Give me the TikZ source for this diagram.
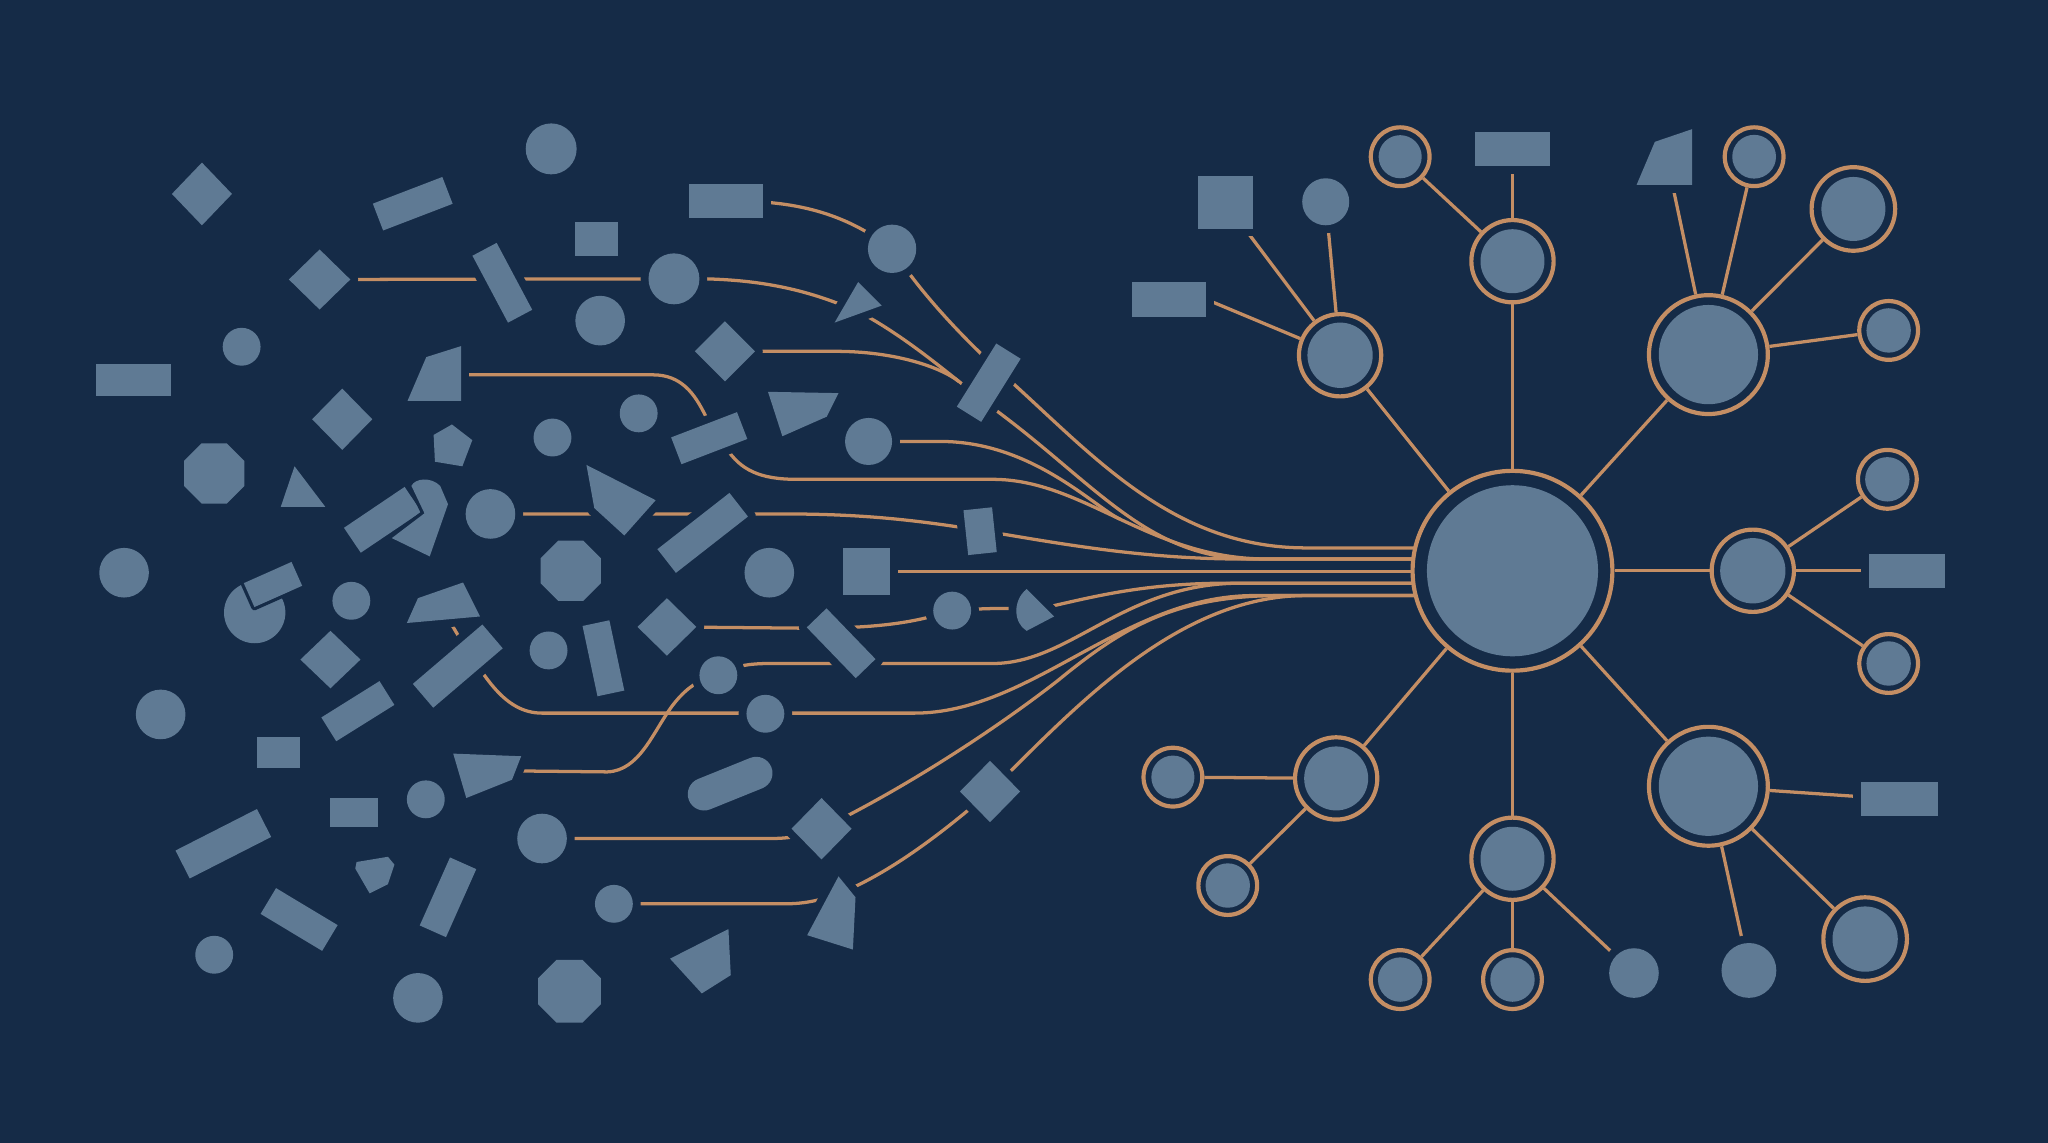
\documentclass[tikz,border=0pt]{standalone}
\usetikzlibrary{shapes.geometric}
\definecolor{bg}{HTML}{152B47}
\definecolor{shp}{HTML}{5F7A94}
\definecolor{cop}{HTML}{C48E64}
\pgfdeclarelayer{bottom}
\pgfdeclarelayer{lines}
\pgfsetlayers{bottom,lines,main}
\tikzset{
  sh/.style={fill=shp, draw=none, preaction={draw=bg, line width=1.2mm, line join=round}},
  shthin/.style={fill=shp, draw=none, preaction={draw=bg, line width=0.5mm, line join=round}},
  cir/.style={sh, circle, inner sep=0pt},
  box/.style={sh, rectangle, inner sep=0pt},
  ln/.style={draw=cop, line width=0.25mm},
  ringo/.style={circle, draw=cop, fill=bg, line width=0.32mm, inner sep=0pt},
  ringi/.style={circle, fill=shp, inner sep=0pt},
}
\newcommand\shcirc[4]{\node[cir,minimum size=#4mm] (#1) at (#2,#3) {};}
\newcommand\shbox[6]{\node[box,minimum width=#4mm,minimum height=#5mm,rotate=#6] (#1) at (#2,#3) {};}
\newcommand\shdiam[5]{\coordinate (#1) at (#2,#3); \path[sh] (#2-#4,#3) -- (#2,#3-#5) -- (#2+#4,#3) -- (#2,#3+#5) -- cycle;}
\newcommand\shoct[4]{\node[sh,regular polygon,regular polygon sides=8,inner sep=0pt,minimum size=#4mm] (#1) at (#2,#3) {};}
\newcommand\ringnd[4]{\node[ringo,minimum size=#3mm] (#1) at (#2) {}; \node[ringi,minimum size=#4mm] at (#2) {};}
\begin{document}
\begin{tikzpicture}[x=0.1mm,y=-0.1mm]
\begin{pgfonlayer}{bottom}
\fill[bg] (0,0) rectangle (1568,875);
\end{pgfonlayer}
\path[use as bounding box] (0,0) rectangle (1568,875);

% ---------- left scattered shapes ----------
\shcirc{C1}{422}{114}{3.9}
\shcirc{C6}{683}{190.5}{3.7}
\shcirc{C9}{516}{213.5}{3.9}
\shcirc{C10}{459.5}{245.5}{3.8}
\shcirc{C13}{185}{265.5}{2.9}
\shcirc{C19}{423}{335}{2.9}
\shcirc{C20}{489}{316.5}{2.9}
\shcirc{C23}{665}{338}{3.6}
\shcirc{C27}{375.5}{393.5}{3.8}
\shcirc{C31}{95}{438.5}{3.8}
\shcirc{C33}{589}{438.5}{3.8}
\shcirc{C35}{729}{467.5}{2.9}
\shcirc{C38}{269}{460}{2.9}
\shcirc{C42}{420}{498}{2.9}
\shcirc{C46}{550}{517}{2.9}
\shcirc{C47}{123}{547}{3.8}
\shcirc{C49}{586}{546.5}{2.9}
\shcirc{C55}{326}{612}{2.9}
\shcirc{C56}{415}{642}{3.8}
\shcirc{C60}{470}{692}{2.9}
\shcirc{C64}{164}{731}{2.9}
\shcirc{C65}{320}{764}{3.8}

\shoct{O24}{164}{362.5}{5.0}
\shoct{O32}{437}{437}{5.0}
\shoct{O66}{436}{759}{5.2}

\shbox{R3}{316}{156}{5.7}{2.2}{21}
\shbox{R4}{456.5}{183}{3.3}{2.6}{0}
\shbox{R5}{556}{154}{5.7}{2.6}{0}
\shbox{R8}{384.6}{216.5}{5.8}{2.1}{-62}
\shbox{R14}{102}{291}{5.75}{2.5}{0}
\shbox{R16}{757}{293}{5.7}{2.2}{58}
\shbox{R21}{543}{335.5}{5.4}{2.2}{21}
\shbox{R26}{293}{398}{5.6}{2.3}{34}
\shbox{R29}{538}{408}{7.0}{2.3}{38}
\shbox{R30}{750.4}{406.7}{2.2}{3.45}{6}
\shbox{S34}{663.5}{437.6}{3.6}{3.6}{0}
\shbox{R41}{350.5}{510}{7.0}{2.4}{40.5}
\shbox{R43}{462}{504}{2.1}{5.5}{12}
\shbox{R45}{644}{492.5}{5.4}{2.1}{-46}
\shbox{R48}{274}{544.5}{5.25}{2.15}{32}
\shbox{S50}{213}{576}{3.3}{2.4}{0}
\shbox{R53}{171}{646}{7.0}{2.4}{27}
\shbox{R54}{271}{622}{3.7}{2.2}{0}
\shbox{R59}{343}{687}{5.7}{2.2}{66}
\shbox{R63}{229}{704}{5.5}{2.3}{-31}
\node[sh,rectangle,rounded corners=1.25mm,inner sep=0pt,minimum width=6.8mm,minimum height=2.5mm,rotate=22] (CP) at (559,600) {};

% pie with overlapping bar
\shcirc{PC}{195}{469}{4.7}
\node[shthin,rectangle,inner sep=0pt,minimum width=4.0mm,minimum height=2.0mm,rotate=24] (R37) at (209,447.5) {};

\shdiam{D2}{154.6}{148.5}{23}{24}
\shdiam{D7}{244.7}{214}{23.5}{23}
\shdiam{D12}{555}{269}{23}{23}
\shdiam{D17}{262}{321}{23}{23.5}
\shdiam{D40}{253}{505}{23}{22}
\shdiam{D44}{510.6}{480}{22.5}{22}
\shdiam{D57}{629}{634.5}{23}{23.5}
\shdiam{D62}{758}{606}{23}{23.5}

\coordinate (T11) at (657,232);
\path[sh] (639,247) -- (657,216) -- (675,234) -- cycle;
\coordinate (T15) at (336,287);
\path[sh] (312,307) -- (326.4,273.4) -- (353,265) -- (353,307) -- cycle;
\coordinate (Q22) at (615,310);
\path[sh] (588,300) -- (642,301) -- (633,319) -- (599,334) -- cycle;
\coordinate (T25) at (230,378);
\path[sh] (215,388) -- (225.5,357) -- (249,388) -- cycle;
\coordinate (Q28) at (470,383);
\path[sh] (449,356) -- (502,383) -- (478,410) -- (455,389) -- cycle;
\coordinate (P18) at (346,341);
\path[sh] (346,325) -- (361.6,337) -- (354,357) -- (333,353.5) -- (332,333) -- cycle;
\coordinate (RP2) at (325,400);
\path[shthin] (300,412) -- (325,393) -- (315,372) .. controls (318,366) and (330,365) .. (337,372) -- (343,386) -- (329,426) -- cycle;
\coordinate (Q36) at (792,467);
\path[sh] (786,451) -- (807,472) -- (786,483) .. controls (776,477) and (775,460) .. (786,451) -- cycle;
\coordinate (Q39) at (338,465);
\path[sh] (311.5,477) -- (320,458) -- (354.5,446) -- (367.5,472) -- cycle;
\coordinate (Q51) at (372,590);
\path[sh] (347,577) -- (399,579) -- (392,597) -- (357,611) -- cycle;
\coordinate (Q61) at (642,700);
\path[sh] (642,671) -- (655,687) -- (653,727) -- (618,716) -- cycle;
\coordinate (Q67) at (540,737);
\path[sh] (513,734) -- (557.7,711.3) -- (559.5,746.6) -- (537.3,760.6) -- cycle;
\coordinate (P58) at (287,669);
\path[sh] (273,660) -- (297,656) -- (302,662) -- (297,677) -- (283,684) -- (272,665) -- cycle;

% ---------- right network ----------
\shbox{RR1}{938}{155}{4.2}{4.0}{0}
\shcirc{RC1}{1015}{154.5}{3.6}
\shbox{RR2}{895}{229.5}{5.7}{2.7}{0}
\shbox{RR3}{1158}{114}{5.7}{2.6}{0}
\coordinate (RT) at (1277,125);
\path[sh] (1253,141.6) -- (1267,108.6) -- (1295.5,98.9) -- (1295.5,141.6) -- cycle;
\shbox{RR4}{1460}{437}{5.8}{2.6}{0}
\shbox{RR5}{1454}{612}{5.9}{2.6}{0}
\shcirc{RC2}{1339}{743}{4.2}
\shcirc{RC3}{1251}{745}{3.8}

\ringnd{hub}{1158,437}{15.3}{13.1}
\ringnd{N1}{1026,272}{6.3}{5.0}
\ringnd{N2}{1158,200}{6.3}{4.9}
\ringnd{N3}{1072,120}{4.5}{3.3}
\ringnd{N4}{1343,120}{4.5}{3.35}
\ringnd{N5}{1419,160}{6.4}{4.9}
\ringnd{N6}{1308,271.5}{9.1}{7.6}
\ringnd{N7}{1446,253}{4.5}{3.4}
\ringnd{N8}{1445,367}{4.5}{3.4}
\ringnd{N9}{1342,437}{6.3}{5.0}
\ringnd{N10}{1446,508}{4.5}{3.4}
\ringnd{N11}{1308,602}{9.1}{7.6}
\ringnd{N12}{1428,719}{6.4}{5.0}
\ringnd{N13}{1023,596}{6.3}{4.9}
\ringnd{N14}{898,595}{4.5}{3.3}
\ringnd{N15}{940,678}{4.5}{3.4}
\ringnd{N16}{1158,657.5}{6.3}{4.9}
\ringnd{N17}{1072,750}{4.5}{3.4}
\ringnd{N18}{1158,750}{4.5}{3.4}

% ---------- connectors ----------
\begin{pgfonlayer}{lines}
\coordinate (s1) at (1120,419.5);
\coordinate (s2) at (1120,428);
\coordinate (s3) at (1120,437.6);
\coordinate (s4) at (1120,446.5);
\coordinate (s5) at (1120,456);
\coordinate (mB) at (734,292);
\coordinate (mE) at (857.5,397.5);
\draw[ln] (R5.center) .. controls (615,153) and (650,166) .. (C6.center);
\draw[ln] (C6.center) .. controls (705,225) and (740,262) .. (775,293) .. controls (840,352) and (900,419.5) .. (1000,419.5) -- (s1);
\draw[ln] (D7) -- (C9.center);
\draw[ln] (C9.center) .. controls (580,212) and (620,222) .. (660,240) .. controls (700,262) and (730,290) .. (765,316) .. controls (840,372) and (880,428) .. (960,428) -- (s2);
\draw[ln] (D12) -- (640,269) .. controls (685,269) and (720,281) .. (mB);
\draw[ln] (C23.center) -- (720,338) .. controls (790,338) and (837.6,388.1) .. (mE);
\draw[ln] (T15) -- (500,287) .. controls (522,287) and (532,302) .. (540,318) -- (556,343) .. controls (567,360) and (582,367) .. (610,367) -- (760,367) .. controls (830,367) and (880,428) .. (970,428) -- (s2);
\draw[ln] (C27.center) -- (600,393.5) .. controls (660,393.5) and (700,398) .. (750,406) .. controls (800,414) and (870,428) .. (950,428) -- (s2);
\draw[ln] (S34.center) -- (s3);
\draw[ln] (D44) -- (620,481) .. controls (680,481) and (705,475) .. (C35.center) .. controls (750,466) and (770,465) .. (Q36) .. controls (830,459) and (870,446.5) .. (940,446.5) -- (s4);
\draw[ln] (Q51) -- (465,591) .. controls (490,590) and (500,560) .. (515,540) .. controls (525,527) and (535,520) .. (C46.center) .. controls (562,510) and (572,508) .. (590,508) -- (760,508) .. controls (820,508) and (860,446.5) .. (950,446.5) -- (s4);
\draw[ln] (Q39) -- (354,492) .. controls (370,515) and (385,546) .. (415,546) -- (700,546) .. controls (790,546) and (860,456) .. (960,456) -- (s5);
\draw[ln] (C56.center) -- (590,642) .. controls (610,642) and (620,638) .. (D57) .. controls (690,605) and (760,560) .. (810,521) .. controls (860,480) and (900,456) .. (980,456) -- (s5);
\draw[ln] (C60.center) -- (600,692) .. controls (615,692) and (625,690) .. (640,685) .. controls (680,670) and (725,635) .. (D62) .. controls (820,545) and (900,456) .. (1000,456) -- (s5);

\draw[ln] (hub) -- (N1);
\draw[ln] (hub) -- (N2);
\draw[ln] (hub) -- (N6);
\draw[ln] (hub) -- (N9);
\draw[ln] (hub) -- (N11);
\draw[ln] (hub) -- (N13);
\draw[ln] (hub) -- (N16);
\draw[ln] (N1) -- (RR1);
\draw[ln] (N1) -- (RC1);
\draw[ln] (N1) -- (RR2.east);
\draw[ln] (N2) -- (N3);
\draw[ln] (N2) -- (RR3);
\draw[ln] (N6) -- (RT);
\draw[ln] (N6) -- (N4);
\draw[ln] (N6) -- (N5);
\draw[ln] (N6) -- (N7);
\draw[ln] (N9) -- (N8);
\draw[ln] (N9) -- (RR4);
\draw[ln] (N9) -- (N10);
\draw[ln] (N11) -- (RR5);
\draw[ln] (N11) -- (N12);
\draw[ln] (N11) -- (RC2);
\draw[ln] (N13) -- (N14);
\draw[ln] (N13) -- (N15);
\draw[ln] (N16) -- (N17);
\draw[ln] (N16) -- (N18);
\draw[ln] (N16) -- (RC3);
\end{pgfonlayer}
\end{tikzpicture}
\end{document}
